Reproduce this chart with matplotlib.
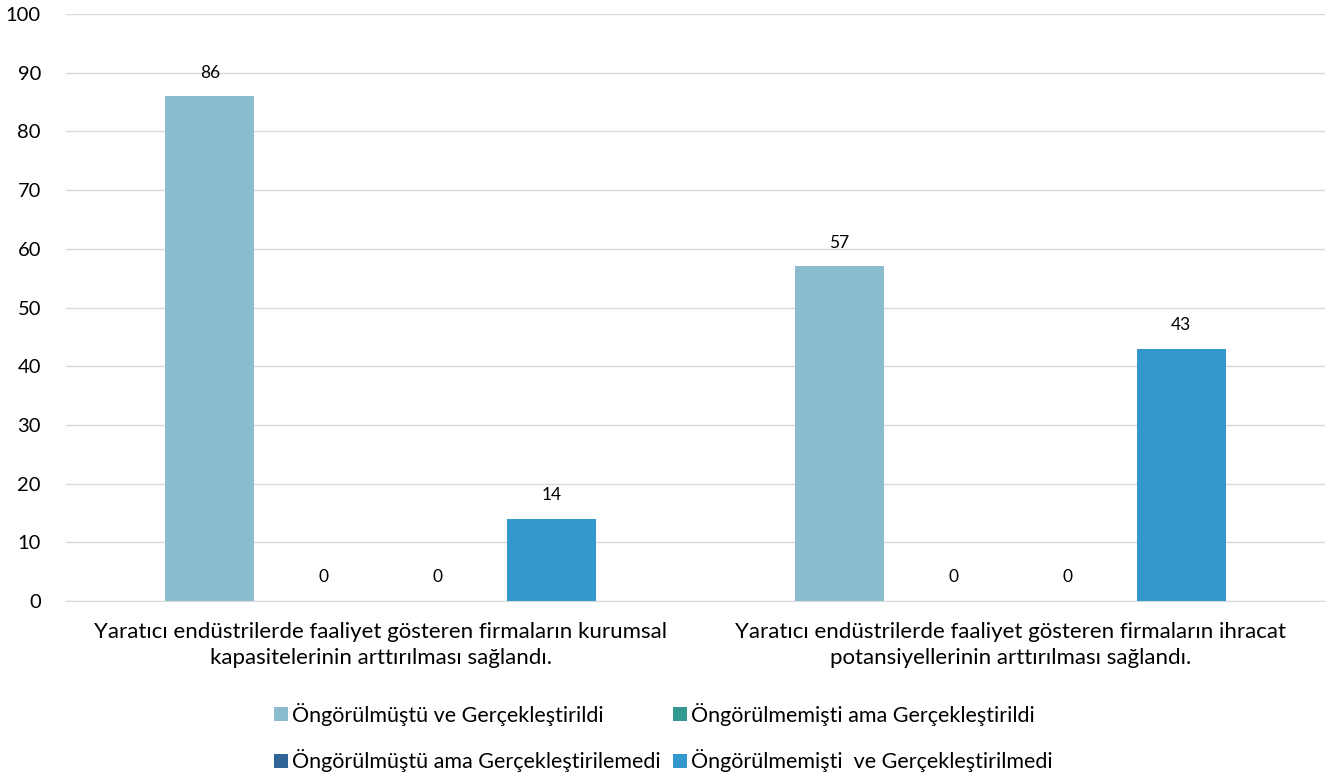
import matplotlib.pyplot as plt
import numpy as np

plt.rcParams['font.family'] = ['Lato', 'DejaVu Sans']

categories = [
    "Yaratıcı endüstrilerde faaliyet gösteren firmaların kurumsal\nkapasitelerinin arttırılması sağlandı.",
    "Yaratıcı endüstrilerde faaliyet gösteren firmaların ihracat\npotansiyellerinin arttırılması sağlandı.",
]
series_names = [
    "Öngörülmüştü ve Gerçekleştirildi",
    "Öngörülmemişti ama Gerçekleştirildi",
    "Öngörülmüştü ama Gerçekleştirilemedi",
    "Öngörülmemişti  ve Gerçekleştirilmedi",
]
values = [
    [86, 57],
    [0, 0],
    [0, 0],
    [14, 43],
]
colors = ["#8BBCCD", "#31998F", "#2F6496", "#3399CD"]

fig = plt.figure(figsize=(13.27, 7.78), dpi=100)
ax = fig.add_axes([0.0497, 0.2275, 0.9488, 0.7545])

x = np.arange(len(categories))
step = 0.181
width = 0.141
bars = []
for i, (name, vals, c) in enumerate(zip(series_names, values, colors)):
    pos = x + (i - 1.5) * step
    bars.append(ax.bar(pos, vals, width=width, color=c, label=name, zorder=3))
    for px, v in zip(pos, vals):
        ax.annotate(str(v), (px, v), xytext=(0, 17), textcoords='offset points',
                    ha='center', va='center', fontsize=12.5, color='#000000')

ax.set_xlim(-0.5, 1.5)
ax.set_ylim(0, 100)
ax.set_yticks(range(0, 101, 10))
ax.set_xticks(x)
ax.set_xticklabels(categories, fontsize=16, linespacing=1.4)
ax.tick_params(axis='both', length=0, labelsize=14.5)
ax.tick_params(axis='x', pad=15, labelsize=16)
ax.tick_params(axis='y', pad=18)
ax.grid(axis='y', color='#D9D9D9', linewidth=1, zorder=0)
for s in ['top', 'right', 'left']:
    ax.spines[s].set_visible(False)
ax.spines['bottom'].set_color('#D9D9D9')

# legend fills column by column, so reorder to read row by row
order = [0, 2, 1, 3]
fig.legend([bars[i] for i in order], [series_names[i] for i in order],
           loc='center', bbox_to_anchor=(0.5, 0.052), ncol=2, frameon=False,
           fontsize=15.5, handlelength=0.65, handleheight=0.65, handletextpad=0.2,
           columnspacing=0.55, labelspacing=1.1)

fig.savefig('out.png', dpi=100)
